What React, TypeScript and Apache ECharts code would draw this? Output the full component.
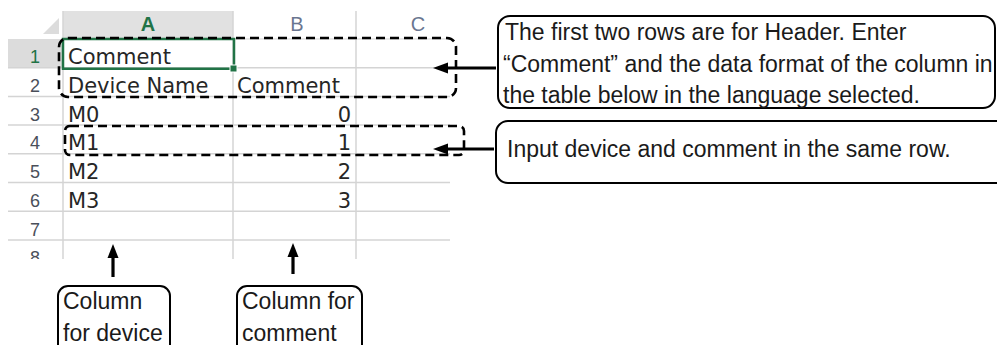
import React, { useEffect, useRef } from "react";
import * as echarts from "echarts";

// ---- data ----
const COL_LETTERS = ["A", "B", "C"];
const ROW_NUMBERS = ["1", "2", "3", "4", "5", "6", "7", "8"];
const COL_A_VALUES = ["Comment", "Device Name", "M0", "M1", "M2", "M3", "", ""];
const COL_B_VALUES = ["", "Comment", "0", "1", "2", "3", "", ""];
const NOTE_HEADER_LINES = [
  "The first two rows are for Header. Enter",
  "\u201CComment\u201D and the data format of the column in",
  "the table below in the language selected.",
];
const NOTE_ROW_TEXT = "Input device and comment in the same row.";
const NOTE_DEVICE_LINES = ["Column", "for device"];
const NOTE_COMMENT_LINES = ["Column for", "comment"];

// ---- layout ----
const COL_EDGES = [8, 63, 233, 356, 450];
const HEADER_TOP = 11;
const ROW0_TOP = 39;
const ROW_H = 28.7;
const GRID_BOTTOM = 259;
const CELL_FONT = "'DejaVu Sans'";
const NOTE_FONT = "'Liberation Sans', Arial";
const GRID_COLOR = "#d4d4d4";
const GREEN = "#217346";

function txt(x: number, y: number, text: string, o: any = {}) {
  const align = o.align || "left";
  return {
    type: "text",
    x,
    y,
    z: o.z ?? 10,
    style: {
      text,
      fill: o.fill || "#262626",
      fontSize: o.size || 21,
      fontFamily: o.family || CELL_FONT,
      fontWeight: o.weight || "normal",
      align,
      textAlign: align,
      verticalAlign: "middle",
      textVerticalAlign: "middle",
    },
  };
}
function line(x1: number, y1: number, x2: number, y2: number, stroke: string, lw: number, z = 5, dash?: number[]) {
  return { type: "line", z, shape: { x1, y1, x2, y2 }, style: { stroke, lineWidth: lw, lineDash: dash } };
}

function buildElements() {
  const els: any[] = [];
  const rowTop = (i: number) => ROW0_TOP + i * ROW_H;
  const rowMid = (i: number) => rowTop(i) + ROW_H / 2 + 4;

  // header backgrounds
  els.push({ type: "rect", z: 1, shape: { x: COL_EDGES[1], y: HEADER_TOP, width: COL_EDGES[2] - COL_EDGES[1], height: ROW0_TOP - HEADER_TOP }, style: { fill: "#e1e1e1" } });
  els.push({ type: "rect", z: 1, shape: { x: COL_EDGES[0], y: rowTop(0), width: COL_EDGES[1] - COL_EDGES[0], height: ROW_H }, style: { fill: "#dcdcdc" } });
  els.push({ type: "polygon", z: 2, shape: { points: [[59, 18], [59, 34], [43, 34]] }, style: { fill: "#dcdcdc" } });

  // grid lines
  for (let i = 0; i < ROW_NUMBERS.length; i++) {
    const y = rowTop(i) + ROW_H;
    if (y < GRID_BOTTOM) els.push(line(COL_EDGES[0], y, COL_EDGES[4], y, GRID_COLOR, 1.5, 3));
  }
  els.push(line(COL_EDGES[1], ROW0_TOP, COL_EDGES[4], ROW0_TOP, GRID_COLOR, 1.2, 3));
  for (let c = 1; c <= 3; c++) {
    els.push(line(COL_EDGES[c], HEADER_TOP, COL_EDGES[c], GRID_BOTTOM, GRID_COLOR, 1.5, 3));
  }

  // column letters
  const letterX = [148, 297, 418];
  COL_LETTERS.forEach((l, i) => {
    els.push(txt(letterX[i], 24, l, { align: "center", size: 20, family: "'Liberation Sans', Arial", fill: i === 0 ? GREEN : "#6a7690", weight: i === 0 ? "bold" : "normal" }));
  });

  // row numbers
  ROW_NUMBERS.forEach((n, i) => {
    els.push(txt(35, rowMid(i), n, { align: "center", size: 18, family: "'Liberation Sans', Arial", fill: i === 0 ? GREEN : "#4a4f5a" }));
  });

  // cell values
  COL_A_VALUES.forEach((v, i) => {
    if (v) els.push(txt(COL_EDGES[1] + 5, rowMid(i), v, {}));
  });
  COL_B_VALUES.forEach((v, i) => {
    if (!v) return;
    const numeric = /^\d+$/.test(v);
    els.push(txt(numeric ? COL_EDGES[3] - 5 : COL_EDGES[2] + 4, rowMid(i), v, { align: numeric ? "right" : "left" }));
  });

  // clip bottom of partial row 8
  els.push({ type: "rect", z: 20, shape: { x: 0, y: GRID_BOTTOM, width: 470, height: 30 }, style: { fill: "#ffffff" } });

  // selection box A1
  els.push({ type: "rect", z: 25, shape: { x: COL_EDGES[1], y: rowTop(0), width: COL_EDGES[2] - COL_EDGES[1] + 1, height: ROW_H + 1 }, style: { fill: "none", stroke: GREEN, lineWidth: 2.5 } });
  els.push({ type: "rect", z: 26, shape: { x: 230, y: 65, width: 7, height: 7 }, style: { fill: GREEN, stroke: "#ffffff", lineWidth: 1 } });

  // dashed highlight boxes
  els.push({ type: "rect", z: 30, shape: { x: 59, y: 38, width: 397, height: 59, r: 9 }, style: { fill: "none", stroke: "#000", lineWidth: 2.6, lineDash: [9, 5] } });
  els.push({ type: "rect", z: 30, shape: { x: 65, y: 126, width: 399, height: 29, r: 5 }, style: { fill: "none", stroke: "#000", lineWidth: 2.6, lineDash: [9, 5] } });

  // left-pointing arrows
  [[68, 496], [149, 494]].forEach(([y, x2]) => {
    els.push(line(445, y, x2, y, "#000", 3.2, 40));
    els.push({ type: "polygon", z: 40, shape: { points: [[433, y], [448, y - 5.5], [448, y + 5.5]] }, style: { fill: "#000" } });
  });

  // up arrows
  [[113, 244, 277], [293, 243, 274]].forEach(([x, y1, y2]) => {
    els.push(line(x, y1 + 10, x, y2, "#000", 3.2, 40));
    els.push({ type: "polygon", z: 40, shape: { points: [[x, y1], [x - 5.5, y1 + 14], [x + 5.5, y1 + 14]] }, style: { fill: "#000" } });
  });

  // note boxes
  const box = (x: number, y: number, w: number, h: number, r: number) => ({
    type: "rect", z: 45, shape: { x, y, width: w, height: h, r }, style: { fill: "#fff", stroke: "#000", lineWidth: 2 },
  });
  els.push(box(498, 16, 497, 92, 12));
  els.push(box(496, 121, 520, 62, 12));
  els.push(box(58, 286, 112, 90, 10));
  els.push(box(237, 286, 125, 90, 10));

  const noteOpt = { size: 23, family: NOTE_FONT, fill: "#1a1a1a", z: 50 };
  const headerLineY = [32, 63.5, 95];
  NOTE_HEADER_LINES.forEach((t, i) => els.push(txt(i === 0 ? 505 : 503, headerLineY[i], t, noteOpt)));
  els.push(txt(507, 149, NOTE_ROW_TEXT, noteOpt));
  NOTE_DEVICE_LINES.forEach((t, i) => els.push(txt(63, 301 + i * 32, t, noteOpt)));
  NOTE_COMMENT_LINES.forEach((t, i) => els.push(txt(242, 301 + i * 32, t, noteOpt)));

  return els;
}

export default function App() {
  const ref = useRef<HTMLDivElement>(null);
  useEffect(() => {
    document.body.style.margin = "0";
    const chart = echarts.init(ref.current!, null, { renderer: "svg" });
    chart.setOption({
      animation: false,
      backgroundColor: "#ffffff",
      graphic: buildElements(),
    });
    return () => chart.dispose();
  }, []);
  return <div ref={ref} style={{ position: "fixed", left: 0, top: 0, width: 997, height: 345, background: "#fff" }} />;
}
